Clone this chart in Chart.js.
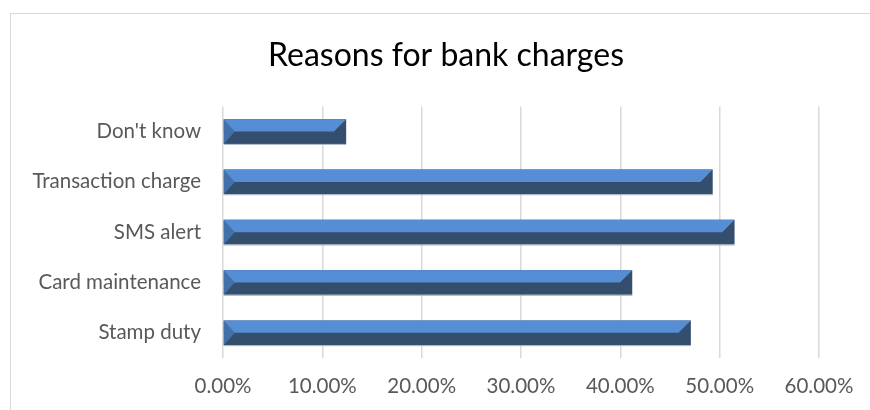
<!DOCTYPE html>
<html>
<head>
<meta charset="utf-8">
<script src="https://cdn.jsdelivr.net/npm/chart.js@4.4.1/dist/chart.umd.min.js"></script>
<style>
    body { margin: 0; background: #fff; }
    #frame {
        position: absolute; left: 10px; top: 13px; width: 880px; height: 420px;
        border-left: 1px solid #d9d9d9; border-top: 1px solid #d9d9d9;
    }
    #wrap { position: absolute; left: 0; top: 0; width: 870px; height: 410px; }
</style>
</head>
<body>
<div id="frame"></div>
<div id="wrap"><canvas id="bankChart"></canvas></div>
<script>
// Data (percent)
const categories = ['Don\'t know', 'Transaction charge', 'SMS alert', 'Card maintenance', 'Stamp duty'];
const shares = [12.4, 49.3, 51.5, 41.2, 47.1];
const tickValues = [0, 10, 20, 30, 40, 50, 60];

const FONT = 'Lato, "Open Sans", sans-serif';

// Bevelled bar look: light top half, dark bottom half, shaded ends
const bevelBars = {
    id: 'bevelBars',
    afterDatasetsDraw(chart) {
        const ctx = chart.ctx;
        chart.getDatasetMeta(0).data.forEach(function(bar) {
            const p = bar.getProps(['x', 'y', 'base', 'height'], true);
            const left = Math.min(p.base, p.x), right = Math.max(p.base, p.x);
            const top = p.y - p.height / 2, bottom = p.y + p.height / 2, mid = p.y;
            const d = p.height / 2;
            ctx.save();
            // top face
            ctx.fillStyle = '#558ed5';
            ctx.beginPath();
            ctx.moveTo(left, top);
            ctx.lineTo(right, top);
            ctx.lineTo(right - d, mid);
            ctx.lineTo(left, mid);
            ctx.closePath();
            ctx.fill();
            // left end
            ctx.fillStyle = '#4270a8';
            ctx.beginPath();
            ctx.moveTo(left, top);
            ctx.lineTo(left + d * 0.9, mid);
            ctx.lineTo(left, bottom);
            ctx.closePath();
            ctx.fill();
            // thin shadow under the bar
            ctx.fillStyle = '#a7b4c6';
            ctx.fillRect(left, bottom, right - left, 1);
            ctx.restore();
        });
    }
};

new Chart(document.getElementById('bankChart'), {
    type: 'bar',
    data: {
        labels: categories,
        datasets: [{
            data: shares,
            backgroundColor: '#344e6e',
            borderWidth: 0,
            categoryPercentage: 1,
            barPercentage: 0.49
        }]
    },
    options: {
        indexAxis: 'y',
        responsive: true,
        maintainAspectRatio: false,
        animation: false,
        layout: { padding: { left: 22, right: 0, top: 0, bottom: 0 } },
        scales: {
            x: {
                min: 0,
                max: 60,
                afterBuildTicks: function(axis) {
                    axis.ticks = tickValues.map(v => ({ value: v }));
                },
                afterFit: function(axis) { axis.height = 52; },
                grid: { color: '#d9d9d9', lineWidth: 1.5, drawTicks: false },
                border: { display: false },
                ticks: {
                    padding: 16,
                    color: '#595959',
                    font: { family: FONT, size: 20.5 },
                    callback: v => v.toFixed(2) + '%'
                }
            },
            y: {
                afterFit: function(axis) { axis.width = 201; },
                grid: { display: false, drawTicks: false },
                border: { display: false },
                ticks: {
                    padding: 22,
                    color: '#595959',
                    font: { family: FONT, size: 20.5 }
                }
            },
            // empty strip on the right so the plot ends at the 60% line
            spacer: {
                axis: 'y',
                position: 'right',
                afterFit: function(axis) { axis.width = 51; },
                grid: { display: false, drawTicks: false },
                border: { display: false },
                ticks: { display: false }
            }
        },
        plugins: {
            legend: { display: false },
            tooltip: { enabled: false },
            title: {
                display: true,
                text: 'Reasons for bank charges',
                color: '#000',
                font: { family: FONT, size: 32, weight: 'normal' },
                padding: { top: 36, bottom: 32 }
            }
        }
    },
    plugins: [bevelBars]
});
</script>
</body>
</html>
